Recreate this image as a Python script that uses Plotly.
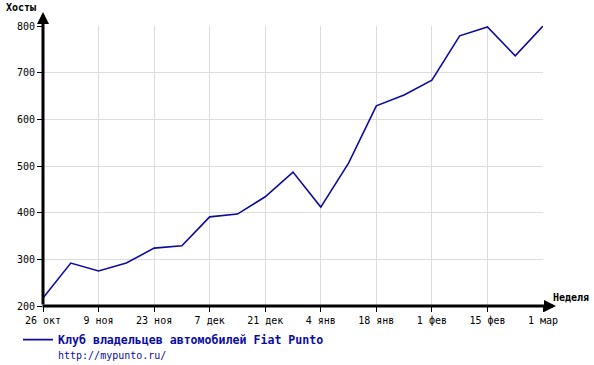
import plotly.graph_objects as go

weeks = list(range(19))
hosts = [217, 292, 275, 292, 324, 329, 391, 397, 434, 487, 412, 506, 629, 652, 684, 779, 798, 736, 800]
tick_positions = [0, 2, 4, 6, 8, 10, 12, 14, 16, 18]
tick_labels = ["26 окт", "9 ноя", "23 ноя", "7 дек", "21 дек", "4 янв", "18 янв", "1 фев", "15 фев", "1 мар"]
y_ticks = [200, 300, 400, 500, 600, 700, 800]
series_name = "Клуб владельцев автомобилей Fiat Punto"
series_url = "http://mypunto.ru/"

MONO = "DejaVu Sans Mono"
LINE_COLOR = "#0c0ca0"

fig = go.Figure()
fig.add_trace(go.Scatter(
    x=weeks, y=hosts, mode="lines",
    line=dict(color=LINE_COLOR, width=1.6),
    name=f"<b>{series_name}</b><br><span style='font-size:10px;font-weight:normal'>{series_url}</span>",
    showlegend=True,
))

fig.update_layout(
    width=594, height=365,
    margin=dict(l=43, r=51, t=26, b=59, autoexpand=False),
    paper_bgcolor="white", plot_bgcolor="white",
    font=dict(family=MONO, size=10, color="black"),
    xaxis=dict(
        range=[0, 18], tickvals=tick_positions, ticktext=tick_labels,
        showgrid=True, gridcolor="#dddddd", gridwidth=1,
        zeroline=False, showline=False,
        ticks="outside", ticklen=5, tickwidth=1, tickcolor="black",
        tickfont=dict(family=MONO, size=10, color="black"),
        fixedrange=True, automargin=False,
    ),
    yaxis=dict(
        range=[200, 800], tickvals=y_ticks,
        showgrid=True, gridcolor="#dddddd", gridwidth=1,
        zeroline=False, showline=False,
        ticks="outside", ticklen=5, tickwidth=1, tickcolor="black",
        tickfont=dict(family=MONO, size=10, color="black"),
        fixedrange=True, automargin=False,
    ),
    legend=dict(
        x=-0.05, y=-0.07, xanchor="left", yanchor="top",
        orientation="v", valign="top",
        font=dict(family=MONO, size=11.6, color=LINE_COLOR),
        bgcolor="rgba(0,0,0,0)",
        itemwidth=30,
    ),
    showlegend=True,
)

# Axis arrows
fig.add_annotation(x=0, y=1.05, xref="paper", yref="paper", ax=0, ay=294,
                   text="", showarrow=True,
                   arrowhead=2, arrowsize=0.8, arrowwidth=3, arrowcolor="black")
fig.add_annotation(x=1.026, y=0, xref="paper", yref="paper", ax=-515, ay=0,
                   text="", showarrow=True,
                   arrowhead=2, arrowsize=0.8, arrowwidth=3, arrowcolor="black")

fig.add_annotation(x=-0.045, y=1.066, xref="paper", yref="paper", text="<b>Хосты</b>",
                   showarrow=False, xanchor="center", yanchor="middle",
                   font=dict(family=MONO, size=10, color="black"))
fig.add_annotation(x=1.056, y=0.03, xref="paper", yref="paper", text="<b>Неделя</b>",
                   showarrow=False, xanchor="center", yanchor="middle",
                   font=dict(family=MONO, size=10, color="black"))

fig.write_html("out.html", config={"displayModeBar": False},
               post_script="document.body.style.margin='0';document.body.style.padding='0';")
